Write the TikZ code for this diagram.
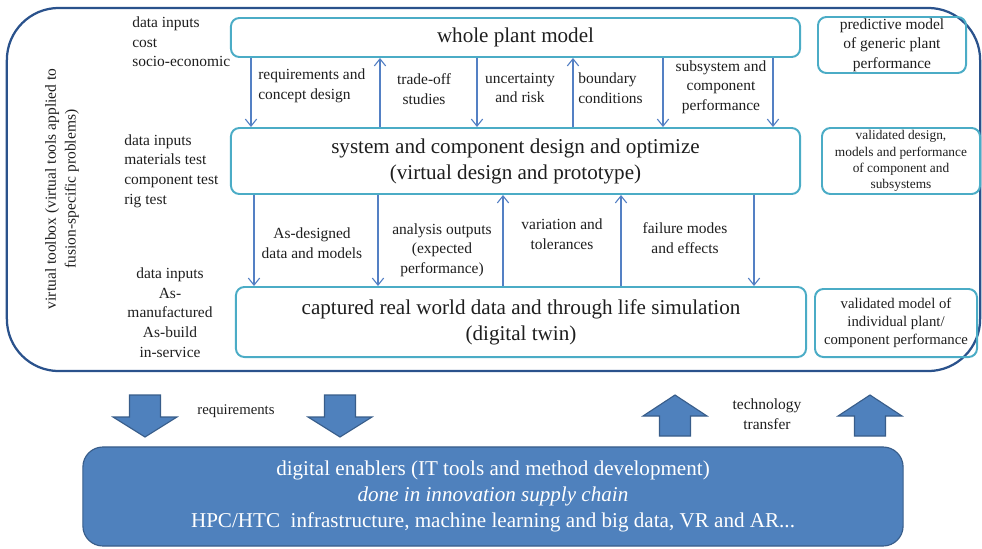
\documentclass[tikz,border=0pt]{standalone}
\usepackage{fontspec}
\setmainfont{Liberation Serif}
\usepackage{tikz}
\usetikzlibrary{positioning}
\usetikzlibrary{calc}
\usetikzlibrary{arrows.meta}

\definecolor{boxblue}{RGB}{75,172,198}
\definecolor{toolblue}{RGB}{42,82,140}
\definecolor{flowblue}{RGB}{84,128,196}
\definecolor{enabfill}{RGB}{79,129,189}
\definecolor{enabline}{RGB}{56,93,138}
\definecolor{txtgray}{RGB}{30,30,30}

\begin{document}
\begin{tikzpicture} [x=0.025cm, y=-0.025cm,
            box/.style={draw=boxblue, line width=1.4pt, rounded corners=6pt, inner sep=0pt},
            flow/.style={-{Straight Barb[length=5pt,width=8pt]}, flowblue, line width=0.8pt},
            bigarr/.style={fill=enabfill, draw=enabline, line width=0.8pt},
            lbl/.style={inner sep=0pt, font=\fontsize{11}{14}\selectfont},
            big/.style={font=\fontsize{15}{18.5}\selectfont},
         every node/.append style={align=center, text=txtgray}]
\useasboundingbox (0,0) rectangle (982,548);

%toolbox
\node (toolbox) at (493.5,189.5) [draw=toolblue, line width=1.6pt, rounded corners=1.3cm,
      minimum width=24.325cm, minimum height=9.075cm] {};
\node (tbtext) at (62,189) [lbl, rotate=90] {virtual toolbox (virtual tools applied to\\fusion-specific problems)};

%WPM
\node (wpm) at (515.5,37.5) [box, big, minimum width=14.225cm, minimum height=0.975cm] {whole plant model};
\node (in1) at (132,42) [lbl, anchor=west, align=left] {data inputs\\cost\\socio-economic};
\node (pred) at (892,45) [box, lbl, minimum width=3.7cm, minimum height=1.4cm] {predictive model\\of generic plant\\performance};

%SCD
\node (scd) at (515.5,161) [box, big, minimum width=14.225cm, minimum height=1.65cm] {system and component design and optimize\\(virtual design and prototype)};
\node (in2) at (124,171) [lbl, anchor=west, align=left] {data inputs\\materials test\\component test\\rig test};
\node (valdes) at (901,161) [box, inner sep=0pt, font=\fontsize{9.5}{11.6}\selectfont,
      minimum width=3.95cm, minimum height=1.65cm] {validated design,\\models and performance\\of component and\\subsystems};

%twin
\node (twin) at (521,322) [box, big, minimum width=14.25cm, minimum height=1.75cm] {captured real world data and through life simulation\\(digital twin)};
\node (in3) at (170,312.5) [lbl] {data inputs\\As-\\manufactured\\As-build\\in-service};
\node (valmod) at (896,323) [box, inner sep=0pt, font=\fontsize{10.5}{12.8}\selectfont,
      minimum width=4.05cm, minimum height=1.7cm] {validated model of\\individual plant/\\component performance};

% flows between whole plant model and design
\foreach \x in {251,477,663,773}
   \draw [flow] (wpm.south -| \x,0) -- (scd.north -| \x,0);
\foreach \x in {380,573}
   \draw [flow] (scd.north -| \x,0) -- (wpm.south -| \x,0);
\node (req) at (258,86) [lbl, anchor=west, align=left] {requirements and\\concept design};
\node (trade) at (424,89) [lbl] {trade-off\\studies};
\node (unc) at (520,88) [lbl] {uncertainty\\and risk};
\node (bound) at (578,88) [lbl, anchor=west, align=left] {boundary\\conditions};
\node (subs) at (721,87) [lbl] {subsystem and\\component\\performance};

% flows between design and twin
\foreach \x in {254,378,754}
   \draw [flow] (scd.south -| \x,0) -- (twin.north -| \x,0);
\foreach \x in {503,621}
   \draw [flow] (twin.north -| \x,0) -- (scd.south -| \x,0);
\node (asdes) at (312,243) [lbl] {As-designed\\data and models};
\node (anout) at (442,250) [lbl] {analysis outputs\\(expected\\performance)};
\node (vari) at (562,234) [lbl] {variation and\\tolerances};
\node (fail) at (685,238) [lbl] {failure modes\\and effects};

%enablers
\node (enab) at (493,496.5) [draw=enabline, fill=enabfill, line width=0.8pt, rounded corners=0.5cm,
      minimum width=20.5cm, minimum height=2.475cm, text=white, big] {digital enablers (IT tools and method development)\\\textit{done in innovation supply chain}\\HPC/HTC\ \ infrastructure, machine learning and big data, VR and AR...};

% block arrows
\foreach \x in {145,340}
   \draw [bigarr] (\x-15.5,395) -- (\x+15.5,395) -- (\x+15.5,417) -- (\x+32,417)
                  -- (\x,437) -- (\x-32,417) -- (\x-15.5,417) -- cycle;
\foreach \x in {675,870}
   \draw [bigarr] (\x-15.5,436) -- (\x+15.5,436) -- (\x+15.5,416) -- (\x+32,416)
                  -- (\x,395) -- (\x-32,416) -- (\x-15.5,416) -- cycle;
\node (reqs) at (236,411) [lbl, font=\fontsize{10.5}{13}\selectfont] {requirements};
\node (tech) at (767,414) [lbl] {technology\\transfer};

\end{tikzpicture}
\end{document}
